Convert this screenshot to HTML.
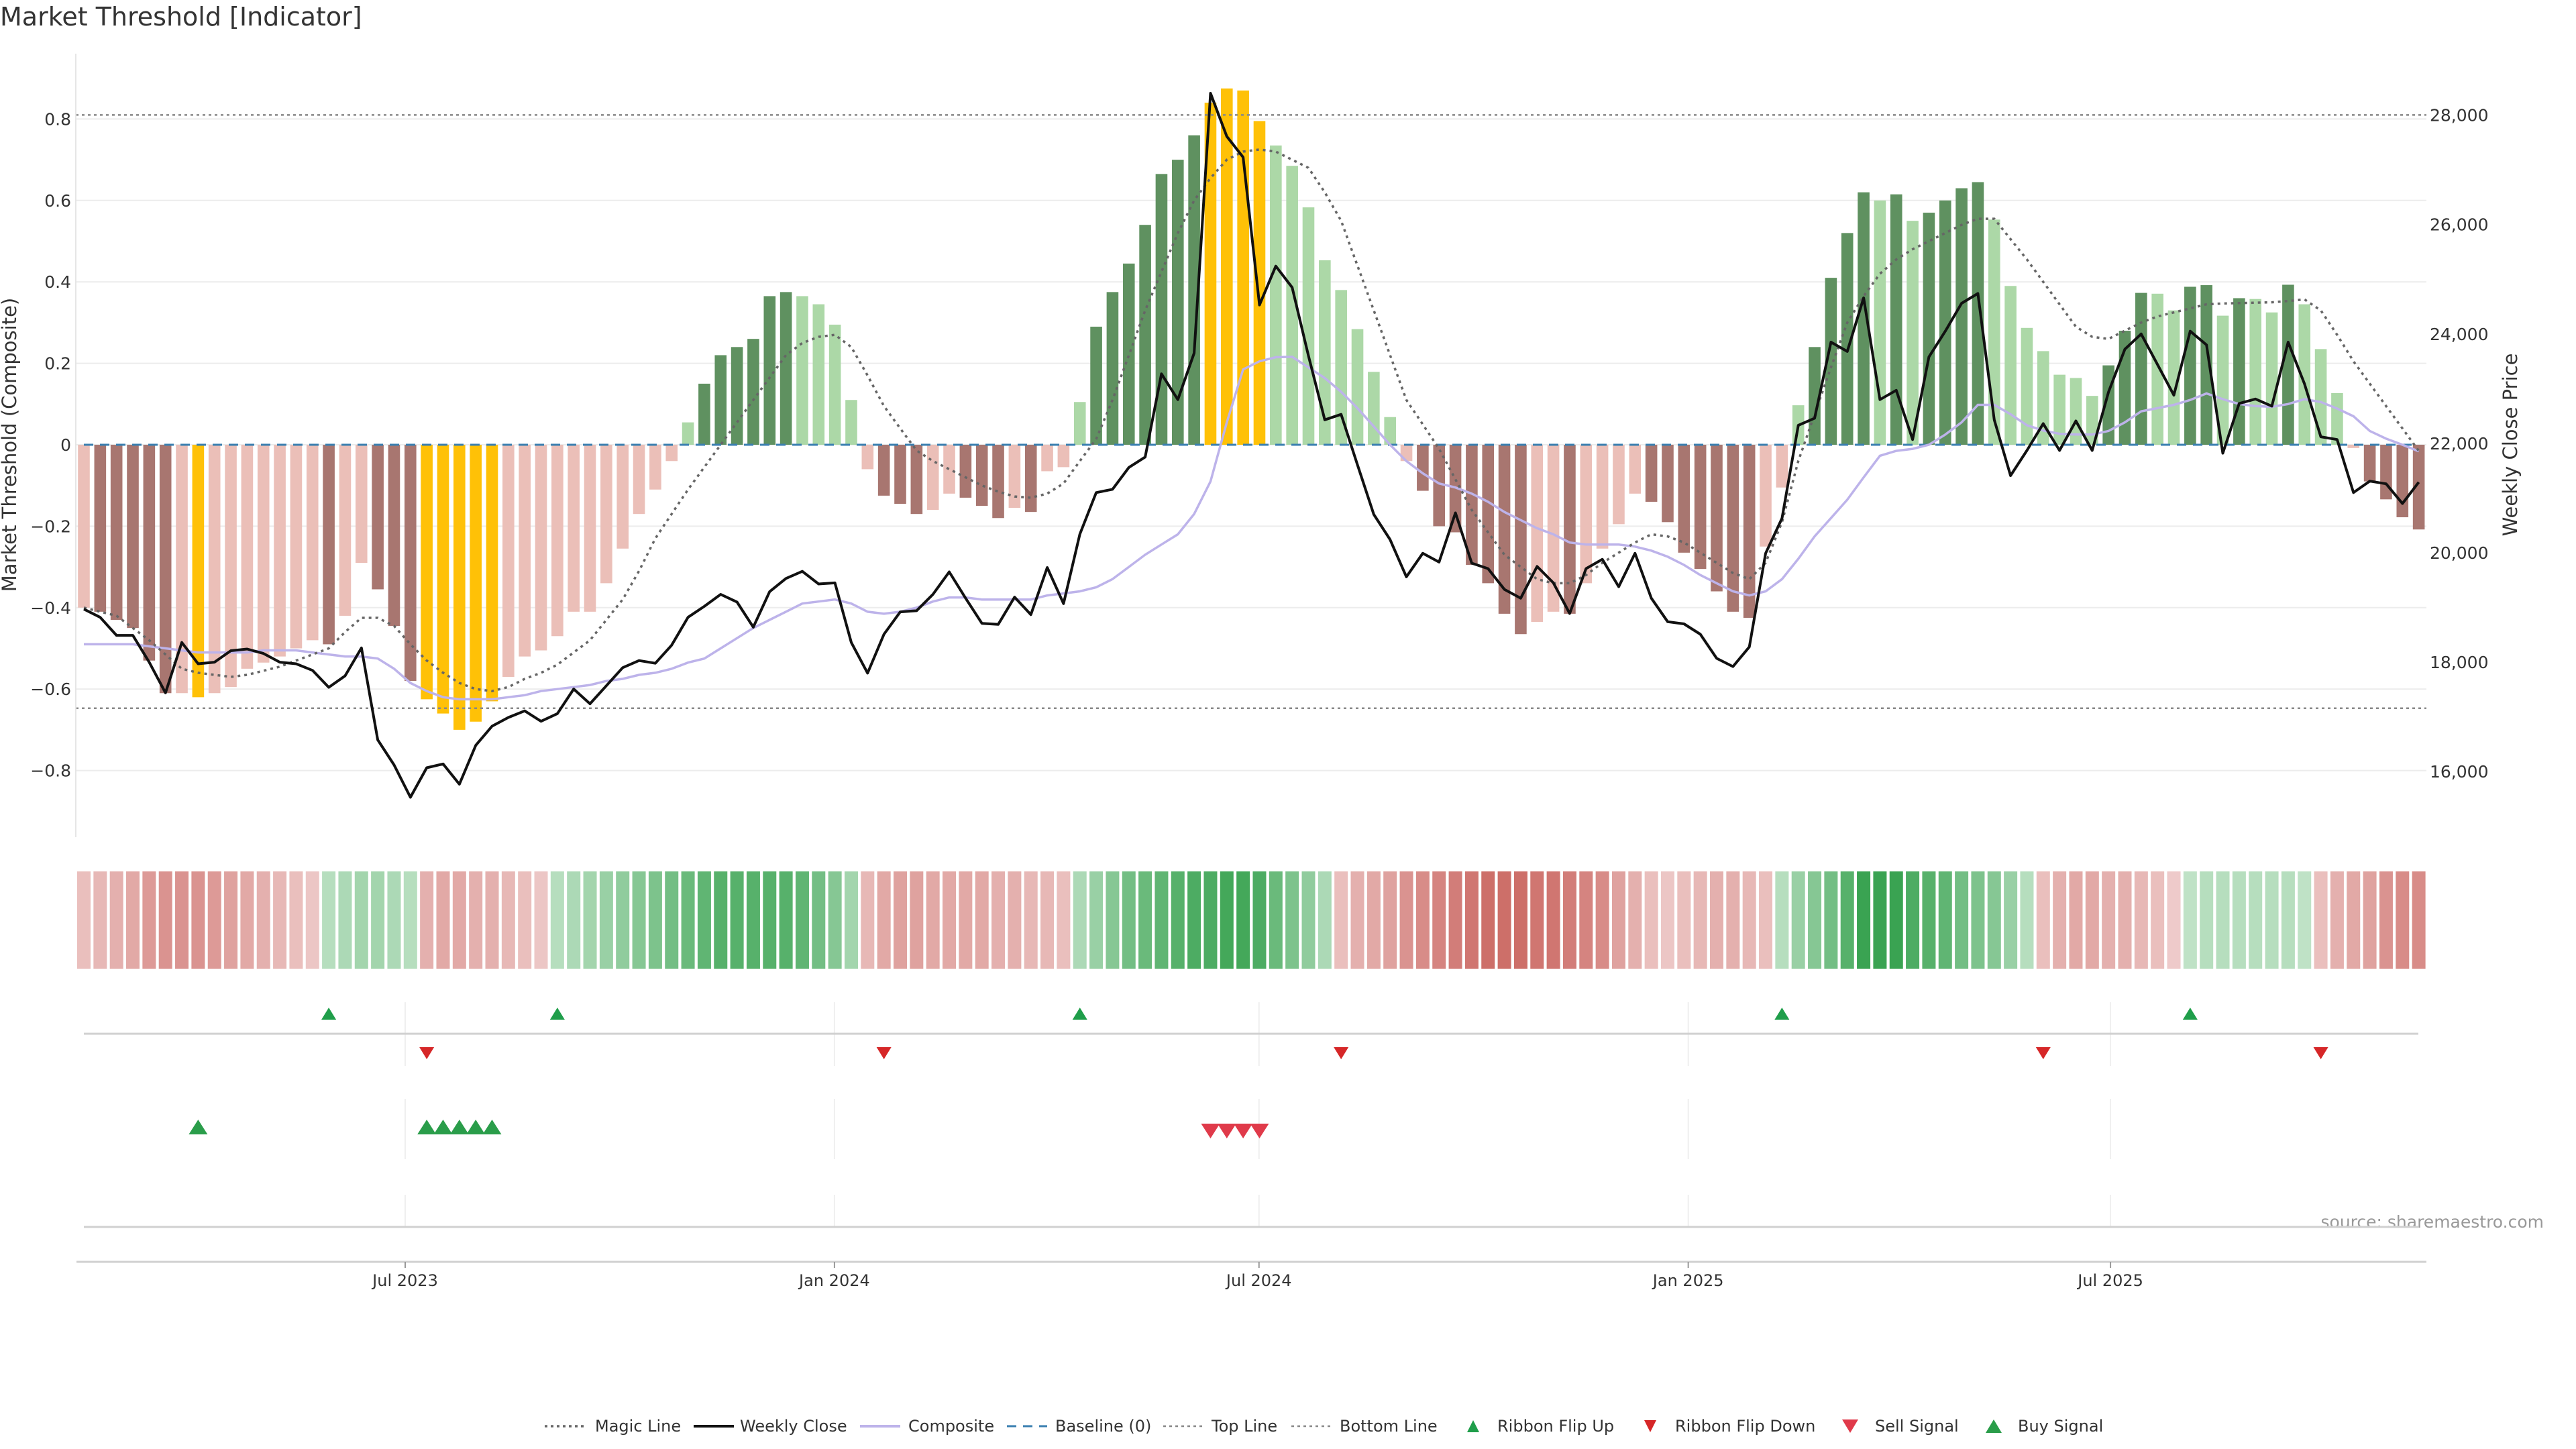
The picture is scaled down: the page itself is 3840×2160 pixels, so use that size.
<!DOCTYPE html>
<html><head><meta charset="utf-8">
<style>
html,body{margin:0;padding:0;background:#fff;}
body{width:3840px;height:2160px;position:relative;overflow:hidden;font-family:"DejaVu Sans","Liberation Sans",sans-serif;}
svg{position:absolute;left:0;top:0;}
</style></head>
<body>
<svg id="chart" width="3840" height="2160" viewBox="0 0 3840 2160" xmlns="http://www.w3.org/2000/svg">
<text x="0" y="38" font-size="38" fill="#333">Market Threshold [Indicator]</text>
<text transform="translate(24,663) rotate(-90)" text-anchor="middle" font-size="29" fill="#333">Market Threshold (Composite)</text>
<text transform="translate(3752,663) rotate(-90)" text-anchor="middle" font-size="29" fill="#333">Weekly Close Price</text>
<text x="3792" y="1830" text-anchor="end" font-size="25" fill="#999">source: sharemaestro.com</text>
<g id="g-grid"></g><g id="g-bars"></g><g id="g-lines"></g><g id="g-axes"></g><g id="g-ribbon"></g><g id="g-signals"></g><g id="g-legend"></g>
</svg>
<script>
const composite=[-0.40,-0.41,-0.43,-0.45,-0.53,-0.61,-0.61,-0.62,-0.61,-0.595,-0.55,-0.535,-0.52,-0.50,-0.48,-0.49,-0.42,-0.29,-0.355,-0.445,-0.58,-0.625,-0.66,-0.70,-0.68,-0.63,-0.57,-0.52,-0.505,-0.47,-0.41,-0.41,-0.34,-0.255,-0.17,-0.11,-0.04,0.055,0.15,0.22,0.24,0.26,0.365,0.375,0.365,0.345,0.295,0.11,-0.06,-0.125,-0.145,-0.17,-0.16,-0.12,-0.13,-0.15,-0.18,-0.155,-0.165,-0.065,-0.055,0.105,0.29,0.375,0.445,0.54,0.665,0.70,0.76,0.84,0.875,0.87,0.795,0.735,0.685,0.583,0.453,0.38,0.284,0.179,0.068,-0.04,-0.113,-0.20,-0.215,-0.295,-0.34,-0.415,-0.465,-0.435,-0.41,-0.415,-0.34,-0.255,-0.195,-0.12,-0.14,-0.19,-0.265,-0.305,-0.36,-0.41,-0.425,-0.25,-0.105,0.097,0.24,0.41,0.52,0.62,0.60,0.615,0.55,0.57,0.60,0.63,0.645,0.553,0.39,0.287,0.23,0.172,0.164,0.12,0.195,0.28,0.373,0.371,0.33,0.388,0.392,0.317,0.36,0.358,0.325,0.393,0.345,0.235,0.127,-0.008,-0.09,-0.134,-0.178,-0.208];
const compositeSmooth=[-0.49,-0.49,-0.49,-0.49,-0.495,-0.50,-0.505,-0.51,-0.51,-0.51,-0.51,-0.505,-0.505,-0.505,-0.51,-0.515,-0.52,-0.52,-0.525,-0.55,-0.585,-0.605,-0.62,-0.625,-0.625,-0.625,-0.62,-0.615,-0.605,-0.60,-0.595,-0.59,-0.58,-0.575,-0.565,-0.56,-0.55,-0.535,-0.525,-0.50,-0.475,-0.45,-0.43,-0.41,-0.39,-0.385,-0.38,-0.39,-0.41,-0.415,-0.41,-0.40,-0.385,-0.375,-0.375,-0.38,-0.38,-0.38,-0.38,-0.37,-0.365,-0.36,-0.35,-0.33,-0.30,-0.27,-0.245,-0.22,-0.17,-0.09,0.055,0.185,0.205,0.215,0.216,0.19,0.164,0.13,0.09,0.045,0,-0.04,-0.07,-0.095,-0.105,-0.12,-0.14,-0.165,-0.185,-0.205,-0.22,-0.24,-0.245,-0.245,-0.245,-0.25,-0.26,-0.275,-0.295,-0.32,-0.34,-0.36,-0.37,-0.36,-0.33,-0.28,-0.225,-0.18,-0.135,-0.08,-0.027,-0.015,-0.01,0,0.025,0.055,0.098,0.098,0.075,0.048,0.035,0.027,0.025,0.025,0.034,0.055,0.082,0.09,0.098,0.11,0.126,0.112,0.10,0.095,0.093,0.10,0.112,0.105,0.089,0.07,0.034,0.015,0,-0.016];
const magic=[-0.40,-0.41,-0.42,-0.45,-0.48,-0.515,-0.55,-0.56,-0.565,-0.57,-0.565,-0.555,-0.545,-0.53,-0.515,-0.50,-0.46,-0.425,-0.425,-0.445,-0.49,-0.53,-0.56,-0.585,-0.60,-0.605,-0.595,-0.575,-0.56,-0.54,-0.51,-0.48,-0.43,-0.38,-0.31,-0.23,-0.17,-0.11,-0.055,0,0.055,0.11,0.165,0.22,0.25,0.265,0.27,0.24,0.17,0.095,0.04,-0.014,-0.04,-0.06,-0.08,-0.10,-0.115,-0.127,-0.13,-0.12,-0.095,-0.04,0.014,0.11,0.22,0.33,0.425,0.52,0.60,0.655,0.70,0.72,0.725,0.72,0.70,0.68,0.62,0.55,0.44,0.33,0.22,0.11,0.05,-0.01,-0.085,-0.16,-0.215,-0.27,-0.30,-0.33,-0.34,-0.34,-0.32,-0.29,-0.265,-0.24,-0.22,-0.225,-0.24,-0.265,-0.29,-0.315,-0.33,-0.29,-0.19,-0.04,0.075,0.19,0.30,0.365,0.42,0.455,0.48,0.50,0.52,0.54,0.555,0.555,0.505,0.455,0.40,0.345,0.29,0.265,0.26,0.28,0.30,0.315,0.325,0.335,0.345,0.347,0.348,0.349,0.35,0.353,0.357,0.33,0.27,0.205,0.15,0.095,0.04,-0.015];
const weeklyClose=[18970,18820,18490,18490,18000,17440,18360,17970,18000,18210,18240,18160,18000,17970,17850,17540,17750,18260,16580,16120,15530,16070,16140,15770,16480,16830,16990,17110,16920,17060,17510,17240,17570,17900,18030,17980,18310,18820,19020,19240,19100,18640,19290,19530,19660,19430,19450,18360,17800,18510,18920,18940,19240,19650,19170,18710,18690,19190,18870,19730,19070,20340,21100,21160,21560,21750,23270,22800,23650,28400,27610,27230,24530,25240,24850,23600,22430,22530,21610,20700,20240,19560,19990,19830,20730,19810,19710,19330,19170,19750,19450,18890,19710,19880,19380,19990,19170,18740,18700,18510,18070,17920,18280,19990,20630,22330,22460,23850,23680,24660,22800,22970,22070,23580,24050,24560,24740,22430,21410,21870,22360,21870,22410,21870,22940,23720,24000,23440,22880,24050,23800,21820,22730,22810,22680,23850,23090,22120,22070,21100,21310,21260,20900,21290];
const ribbon=[-0.2,-0.25,-0.3,-0.35,-0.45,-0.5,-0.5,-0.5,-0.45,-0.4,-0.35,-0.3,-0.25,-0.2,-0.15,0.2,0.25,0.3,0.3,0.25,0.2,-0.3,-0.35,-0.35,-0.3,-0.3,-0.25,-0.2,-0.15,0.2,0.25,0.3,0.35,0.4,0.45,0.5,0.55,0.6,0.65,0.7,0.7,0.7,0.7,0.7,0.65,0.55,0.45,0.3,-0.25,-0.35,-0.4,-0.4,-0.35,-0.35,-0.35,-0.35,-0.3,-0.3,-0.25,-0.25,-0.2,0.25,0.35,0.45,0.55,0.6,0.65,0.7,0.75,0.75,0.8,0.8,0.75,0.6,0.5,0.4,0.25,-0.2,-0.3,-0.35,-0.4,-0.5,-0.55,-0.6,-0.65,-0.7,-0.75,-0.75,-0.75,-0.7,-0.7,-0.65,-0.6,-0.55,-0.4,-0.3,-0.2,-0.15,-0.2,-0.25,-0.3,-0.3,-0.25,-0.2,0.2,0.35,0.45,0.55,0.7,0.85,0.85,0.85,0.75,0.7,0.65,0.55,0.5,0.45,0.35,0.2,-0.2,-0.3,-0.35,-0.35,-0.3,-0.3,-0.25,-0.2,-0.12,0.15,0.2,0.2,0.2,0.2,0.2,0.2,0.15,-0.2,-0.3,-0.35,-0.4,-0.5,-0.55,-0.55];
const buySignals=[7,21,22,23,24,25];
const sellSignals=[69,70,71,72];
const flipUp=[15,29,61,104,129];
const flipDown=[21,49,77,120,137];
const leftTicks=[-0.8,-0.6,-0.4,-0.2,0,0.2,0.4,0.6,0.8];
const rightTicks=[16000,18000,20000,22000,24000,26000,28000];
const xTickLabels=["Jul 2023","Jan 2024","Jul 2024","Jan 2025","Jul 2025"];
const xTickWeeks=[19.68,45.97,71.97,98.26,124.12];
const topLine=0.81, bottomLine=-0.647;

const NS="http://www.w3.org/2000/svg";
const X0=125, DX=24.34;
function xS(i){return X0+DX*i;}
function yL(v){return 663-607*v;}
function yR(p){return 171.6+(28000-p)/2000*163.1;}
function mk(tag,parent,attrs){const e=document.createElementNS(NS,tag);for(const k in attrs)e.setAttribute(k,attrs[k]);document.getElementById(parent).appendChild(e);return e;}
function fmtL(v){if(v===0)return "0";return (v<0?"\u2212":"")+Math.abs(v).toFixed(1);}
function fmtR(p){return p.toLocaleString("en-US");}
function mix(c1,c2,t){return "rgb("+c1.map((c,k)=>Math.round(c+(c2[k]-c)*t)).join(",")+")";}

leftTicks.forEach(v=>{
  const g=mk("line","g-grid",{x1:113,x2:3617,y1:yL(v),y2:yL(v),stroke:"#ececec","stroke-width":2});
  
  
  const t=mk("text","g-axes",{x:106,y:yL(v)+9,"text-anchor":"end","font-size":25,fill:"#333"});
  t.textContent=fmtL(v);
  
  
});
rightTicks.forEach(p=>{
  const t=mk("text","g-axes",{x:3622,y:yR(p)+9,"font-size":25,fill:"#333"});
  t.textContent=fmtR(p);
  
  
});
const sp=mk("line","g-axes",{x1:113,x2:113,y1:80,y2:1248,stroke:"#e6e6e6","stroke-width":2});



[["top-line",topLine],["bottom-line",bottomLine]].forEach(([n,v])=>{
  const l=mk("line","g-lines",{x1:113,x2:3617,y1:yL(v),y2:yL(v),stroke:"#888","stroke-width":2.5,"stroke-dasharray":"4,5"});
  
  
});

composite.forEach((v,i)=>{
  const prev=i>0?composite[i-1]:0;
  let col;
  if(buySignals.includes(i)||sellSignals.includes(i)) col="#ffc107";
  else {
    const dark=i>0&&Math.sign(prev)===Math.sign(v)&&Math.abs(v)>Math.abs(prev);
    col=v>=0?(dark?"#5f9160":"#acd8a7"):(dark?"#a87670":"#ebbfb8");
  }
  const y0=yL(0),y1=yL(v);
  const r=mk("rect","g-bars",{x:xS(i)-8.8,width:17.6,y:Math.min(y0,y1),height:Math.abs(y1-y0),fill:col});
  
  
});

const bl=mk("line","g-lines",{x1:125,x2:3605,y1:yL(0),y2:yL(0),stroke:"#3a7fb0","stroke-width":3,"stroke-dasharray":"14,10"});



function poly(arr,fy,attrs,name){
  const d=arr.map((v,i)=>(i?"L":"M")+xS(i).toFixed(1)+","+fy(v).toFixed(1)).join("");
  const p=mk("path","g-lines",Object.assign({d:d,fill:"none"},attrs));
  
  
}
poly(compositeSmooth,yL,{stroke:"#bdb3ea","stroke-width":3.5},"composite-line");
poly(magic,yL,{stroke:"#666","stroke-width":3.5,"stroke-dasharray":"4,6"},"magic-line");
poly(weeklyClose,yR,{stroke:"#111","stroke-width":4,"stroke-linejoin":"round"},"weekly-close-line");

ribbon.forEach((v,i)=>{
  const t=Math.min(1,Math.abs(v)/0.85);
  const col=v>=0?mix([220,240,223],[58,163,82],t):mix([244,220,220],[200,96,90],t);
  const r=mk("rect","g-ribbon",{x:xS(i)-10,width:20,y:1299,height:145,fill:col});
  
  
});

[[1494,1589],[1638,1728],[1781,1829]].forEach(([a,b])=>{
  xTickWeeks.forEach(w=>{
    const g=mk("line","g-grid",{x1:xS(w),x2:xS(w),y1:a,y2:b,stroke:"#efefef","stroke-width":2});
    
    
  });
});
[1541,1829].forEach(y=>{
  const l=mk("line","g-axes",{x1:125,x2:3605,y1:y,y2:y,stroke:"#d0d0d0","stroke-width":3});
  
  
});
const xa=mk("line","g-axes",{x1:114,x2:3617,y1:1881,y2:1881,stroke:"#d0d0d0","stroke-width":3});


xTickWeeks.forEach((w,k)=>{
  const tk=mk("line","g-axes",{x1:xS(w),x2:xS(w),y1:1881,y2:1890,stroke:"#999","stroke-width":2});
  
  
  const t=mk("text","g-axes",{x:xS(w),y:1917,"text-anchor":"middle","font-size":24,fill:"#333"});
  t.textContent=xTickLabels[k];
  
  
});
function tri(parent,cx,cy,w,h,up,col,name){
  const pts=up?[[cx-w/2,cy+h/2],[cx+w/2,cy+h/2],[cx,cy-h/2]]:[[cx-w/2,cy-h/2],[cx+w/2,cy-h/2],[cx,cy+h/2]];
  const p=mk("polygon",parent,{points:pts.map(q=>q.join(",")).join(" "),fill:col});
  
  
}
flipUp.forEach(i=>tri("g-signals",xS(i),1511,22,18,true,"#1f9e4a","ribbon-flip-up-marker"));
flipDown.forEach(i=>tri("g-signals",xS(i),1570,22,18,false,"#d62728","ribbon-flip-down-marker"));
buySignals.forEach(i=>tri("g-signals",xS(i),1680,28,22,true,"#2a9d4a","buy-signal-marker"));
sellSignals.forEach(i=>tri("g-signals",xS(i),1686,28,22,false,"#e03a4a","sell-signal-marker"));

const LY=2126;
function legText(x,s,name){const t=mk("text","g-legend",{x:x,y:LY+8,"font-size":24,fill:"#333"});t.textContent=s;}
function legLine(x,attrs,name){const l=mk("line","g-legend",Object.assign({x1:x,x2:x+60,y1:LY,y2:LY},attrs));}
legLine(812,{stroke:"#666","stroke-width":3.5,"stroke-dasharray":"4,5"},"legend-magic-line-swatch");legText(887,"Magic Line","legend-magic-line");
legLine(1034,{stroke:"#111","stroke-width":4},"legend-weekly-close-swatch");legText(1103,"Weekly Close","legend-weekly-close");
legLine(1282,{stroke:"#bdb3ea","stroke-width":4},"legend-composite-swatch");legText(1354,"Composite","legend-composite");
legLine(1501,{stroke:"#3a7fb0","stroke-width":3,"stroke-dasharray":"14,10"},"legend-baseline-swatch");legText(1573,"Baseline (0)","legend-baseline");
legLine(1734,{stroke:"#888","stroke-width":2.5,"stroke-dasharray":"4,5"},"legend-top-line-swatch");legText(1806,"Top Line","legend-top-line");
legLine(1925,{stroke:"#888","stroke-width":2.5,"stroke-dasharray":"4,5"},"legend-bottom-line-swatch");legText(1997,"Bottom Line","legend-bottom-line");
tri("g-legend",2196,LY,18,18,true,"#1f9e4a","legend-flip-up-swatch");legText(2232,"Ribbon Flip Up","legend-ribbon-flip-up");
tri("g-legend",2460,LY,18,18,false,"#d62728","legend-flip-down-swatch");legText(2497,"Ribbon Flip Down","legend-ribbon-flip-down");
tri("g-legend",2758,LY,24,20,false,"#e03a4a","legend-sell-swatch");legText(2795,"Sell Signal","legend-sell-signal");
tri("g-legend",2972,LY,24,20,true,"#2a9d4a","legend-buy-swatch");legText(3008,"Buy Signal","legend-buy-signal");
</script>
</body></html>
